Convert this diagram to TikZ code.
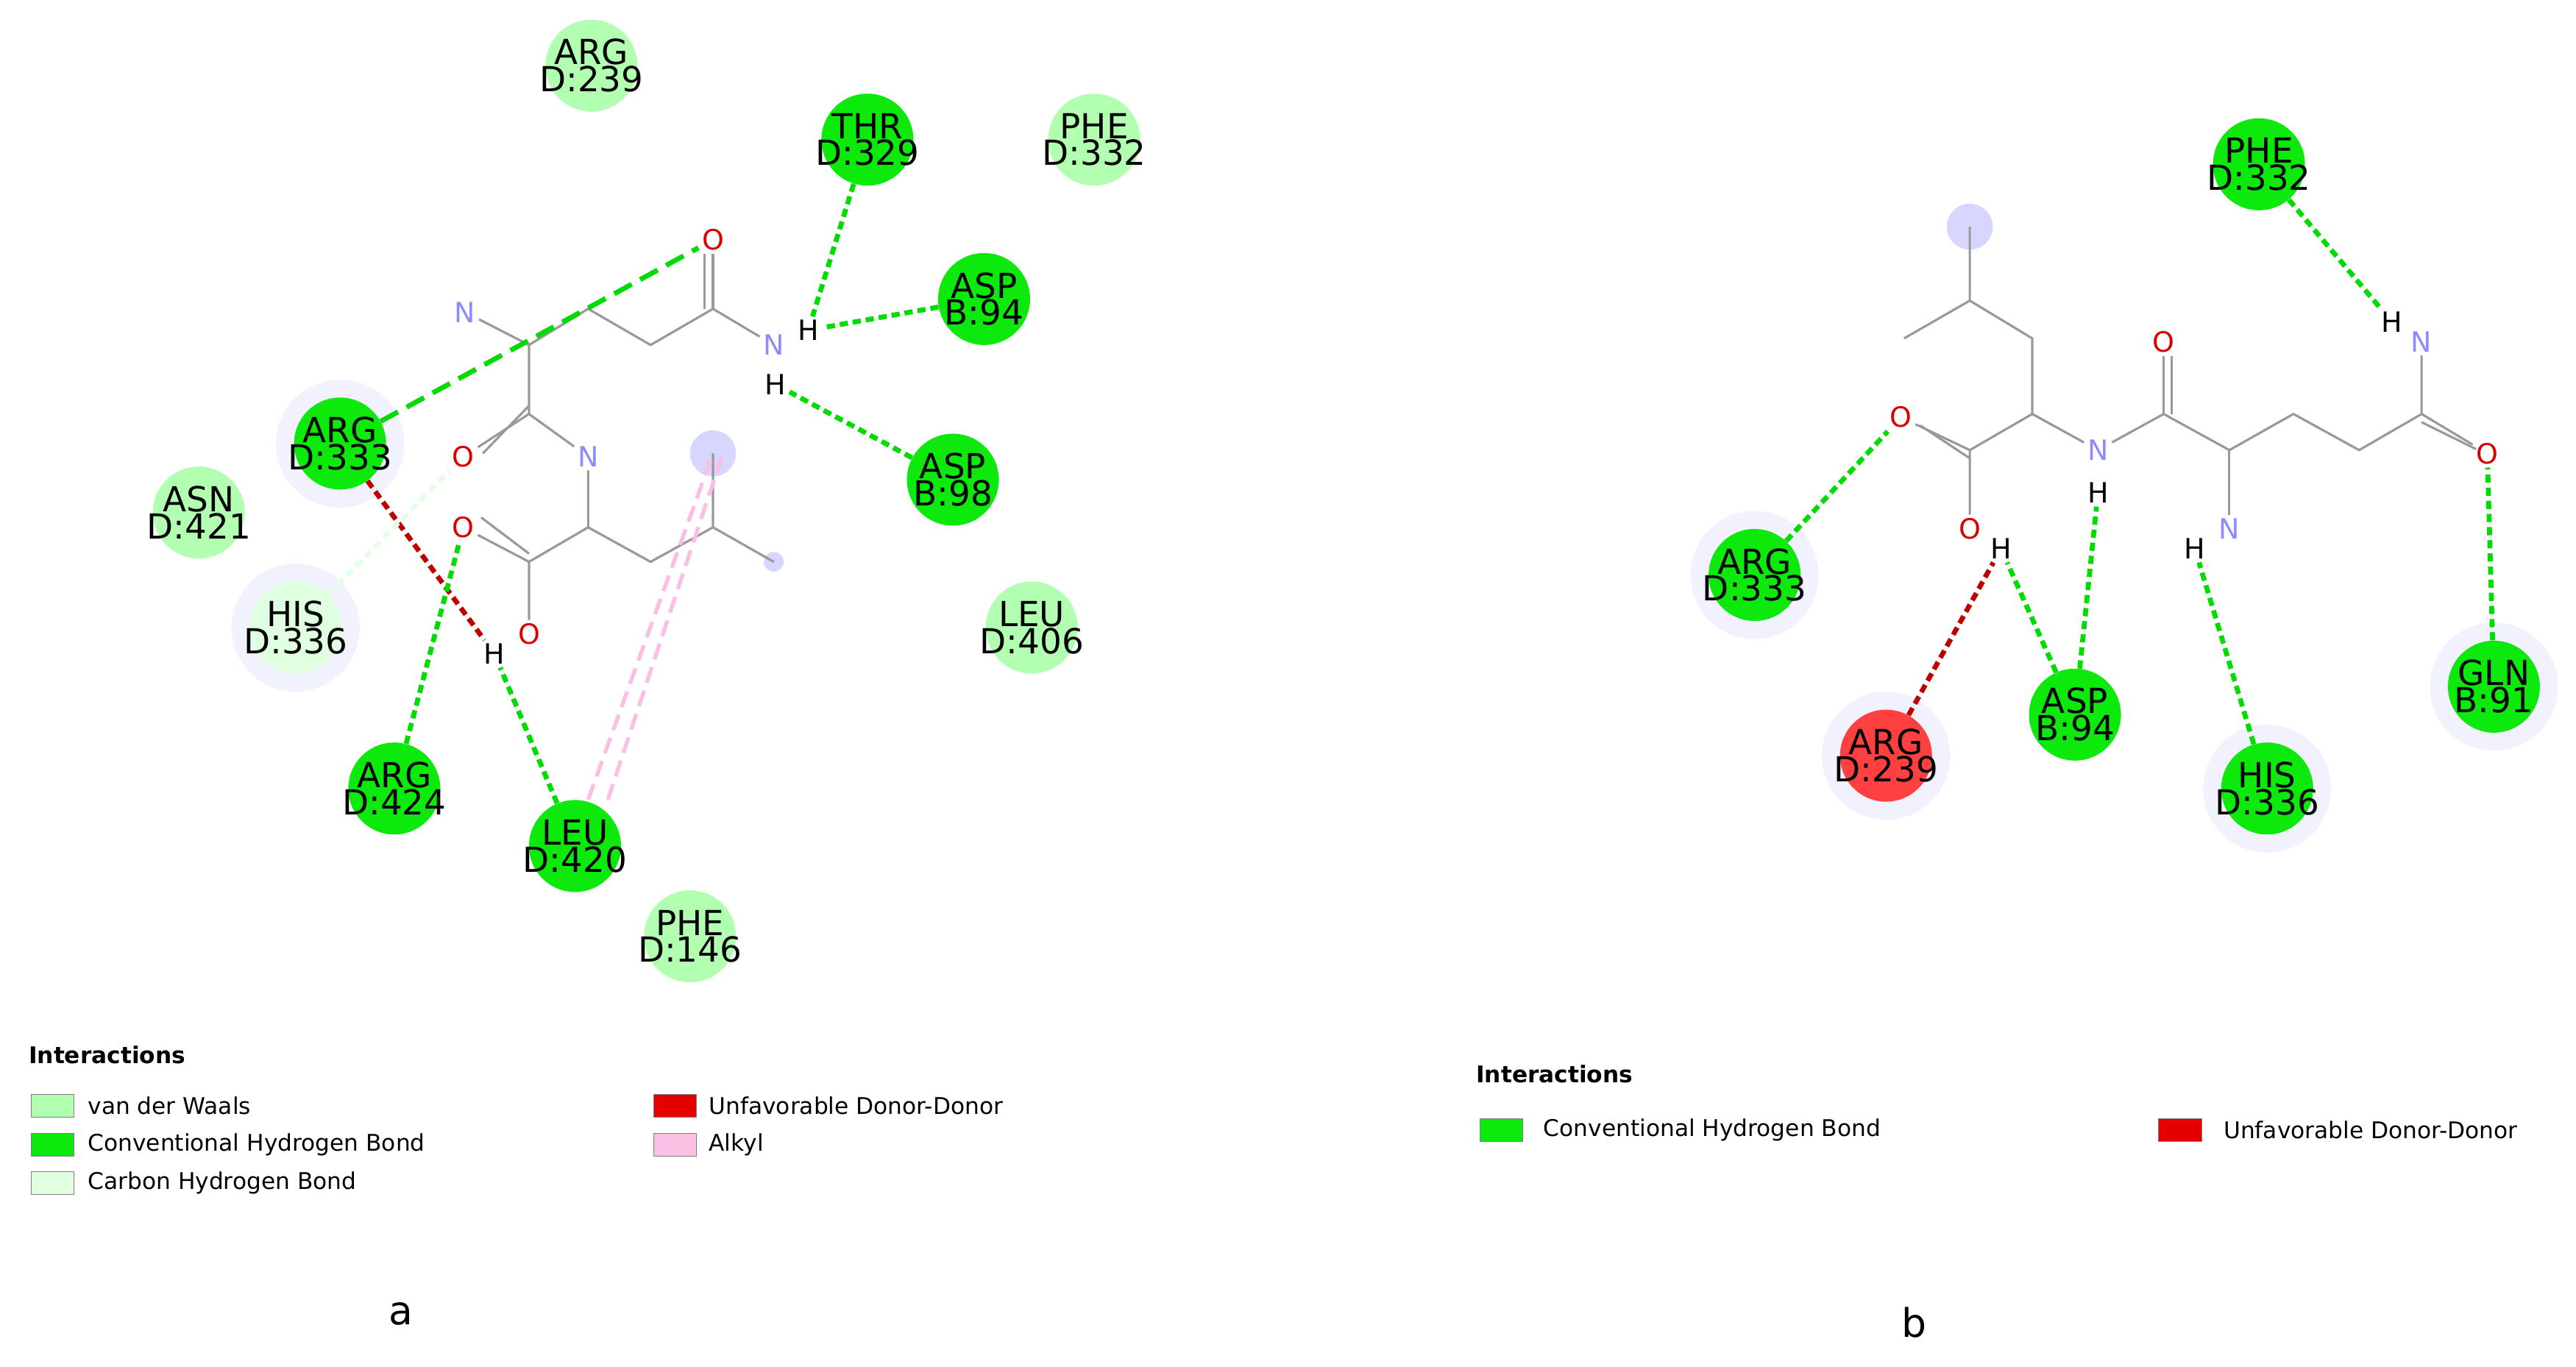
\documentclass[tikz,border=0pt]{standalone}
\usepackage{fontspec}
\setmainfont{DejaVu Sans}
\begin{document}
\begin{tikzpicture}[x=1pt,y=-1pt,
 res/.style={circle,minimum size=56pt,inner sep=-7pt,align=center,font=\fontsize{21}{16.5}\selectfont},
 conv/.style={res,fill=green!85!black!60!green!95},
 vdw/.style={res,fill=green!30!white},
 chb/.style={res,fill=green!12!white},
 unf/.style={res,fill=red!75!white},
 halo/.style={circle,fill=blue!5!white,minimum size=78pt,inner sep=0pt},
 glow/.style={circle,fill=blue!16!white,minimum size=28pt,inner sep=0pt},
 atO/.style={text=red!85!black,font=\fontsize{17}{17}\selectfont,inner sep=2pt},
 atN/.style={text=blue!45!white,font=\fontsize{17}{17}\selectfont,inner sep=2pt},
 atH/.style={text=black,font=\fontsize{17}{17}\selectfont,inner sep=2pt},
 bond/.style={draw=gray!80,line width=1.4pt},
 hb/.style={draw=green!80!black!70!green,line width=3pt,dash pattern=on 5pt off 3pt},
 hbl/.style={draw=green!10!white,line width=3pt,dash pattern=on 5pt off 3pt},
 unfb/.style={draw=red!75!black,line width=3pt,dash pattern=on 5pt off 3pt},
 alk/.style={draw=magenta!25!white,line width=2.4pt,dash pattern=on 10pt off 5pt},
 leg/.style={font=\fontsize{14}{14}\selectfont,anchor=west},
 box/.style={draw=gray,minimum width=26pt,minimum height=14pt,inner sep=0pt}]
\useasboundingbox (0,0) rectangle (1568,832);
% ---------- panel a ----------
\node[halo] at (207,270) {};
\node[halo] at (180,382) {};
\node[glow] at (434,276) {};
\node[glow,minimum size=12pt] at (471,342) {};
\coordinate (aCa1) at (322,210);
\coordinate (aCH2a) at (358,188);
\coordinate (aCH2b) at (396,210);
\coordinate (aC) at (434,188);
\coordinate (aCam) at (322,252);
\coordinate (aCa2) at (358,321);
\coordinate (aCac) at (322,342);
\coordinate (aCH2) at (396,342);
\coordinate (aCH) at (434,321);
\coordinate (aMe1) at (434,276);
\coordinate (aMe2) at (471,342);
\node[atN] (aNa) at (283,190) {N};
\node[atO] (aO1) at (434,146) {O};
\node[atN] (aN2) at (471,210) {N};
\node[atH] (aH1) at (492,201) {H};
\node[atH] (aH2) at (472,234) {H};
\node[atO] (aO2) at (282,278) {O};
\node[atN] (aN3) at (358,278) {N};
\node[atO] (aO3) at (282,321) {O};
\node[atO] (aO4) at (322,386) {O};
\node[atH] (aH3) at (301,398) {H};
\draw[bond] (aNa)--(aCa1)--(aCH2a)--(aCH2b)--(aC)--(aN2);
\draw[bond] (aC)--(aO1); \draw[bond] ([xshift=-5pt]aC)--([xshift=-5pt]aO1.south);
\draw[bond] (aCa1)--(aCam)--(aN3)--(aCa2)--(aCac)--(aO4);
\draw[bond] (aCam)--(aO2); \draw[bond] ([yshift=5pt]aCam)--([xshift=3pt,yshift=2pt]aO2.east);
\draw[bond] (aCac)--(aO3); \draw[bond] ([yshift=5pt]aCac)--([xshift=2pt,yshift=6pt]aO3.east);
\draw[bond] (aCa2)--(aCH2)--(aCH)--(aMe1); \draw[bond] (aCH)--(aMe2);
\node[vdw] (aR239) at (360,40) {ARG\\D:239};
\node[conv] (aT329) at (528,85) {THR\\D:329};
\node[vdw] (aP332) at (666,85) {PHE\\D:332};
\node[conv] (aD94) at (599,182) {ASP\\B:94};
\node[conv] (aD98) at (580,292) {ASP\\B:98};
\node[vdw] (aL406) at (628,382) {LEU\\D:406};
\node[conv] (aR333) at (207,270) {ARG\\D:333};
\node[vdw] (aN421) at (121,312) {ASN\\D:421};
\node[chb] (aH336) at (180,382) {HIS\\D:336};
\node[conv] (aR424) at (240,480) {ARG\\D:424};
\node[conv] (aL420) at (350,515) {LEU\\D:420};
\node[vdw] (aP146) at (420,570) {PHE\\D:146};
\draw[hb,dash pattern=on 12pt off 6pt] (aR333) -- (aO1);
\draw[hb] (aT329) -- (aH1);
\draw[hb] (aD94) -- (aH1);
\draw[hb] (aD98) -- (aH2);
\draw[unfb] (aR333) -- (aH3);
\draw[hb] (aR424) -- (aO3);
\draw[hb] (aL420) -- (aH3);
\draw[hbl] (aH336) -- (aO2);
\draw[alk] ([xshift=8pt]aL420.north) -- (aMe1);
\draw[alk] ([xshift=20pt]aL420.north) -- ([xshift=6pt]aMe1);
% legend a
\node[font=\bfseries\fontsize{14}{14}\selectfont,anchor=west] at (14,642) {Interactions};
\node[box,fill=green!30!white] (lb1) at (32,673) {}; \node[leg] at (50,673) {van der Waals};
\node[box,fill=green!85!black!60!green!95] (lb2) at (32,697) {}; \node[leg] at (50,697) {Conventional Hydrogen Bond};
\node[box,fill=green!12!white] (lb3) at (32,720) {}; \node[leg] at (50,720) {Carbon Hydrogen Bond};
\node[box,fill=red!90!black] (lb4) at (411,673) {}; \node[leg] at (428,673) {Unfavorable Donor-Donor};
\node[box,fill=magenta!25!white] (lb5) at (411,697) {}; \node[leg] at (428,697) {Alkyl};
\node[font=\fontsize{24}{24}\selectfont] (la) at (244,800) {a};
% ---------- panel b ----------
\node[halo] at (1068,350) {};
\node[halo] at (1148,460) {};
\node[halo] at (1380,480) {};
\node[halo] at (1518,418) {};
\node[glow] at (1199,138) {};
\coordinate (bMe1) at (1199,138);
\coordinate (bCH) at (1199,183);
\coordinate (bMe2) at (1159,206);
\coordinate (bCH2) at (1237,206);
\coordinate (bCa) at (1237,252);
\coordinate (bCac) at (1199,274);
\coordinate (bCam) at (1317,252);
\coordinate (bCa2) at (1357,274);
\coordinate (bCH2a) at (1396,252);
\coordinate (bCH2b) at (1436,274);
\coordinate (bC) at (1474,252);
\node[atO] (bO1) at (1157,254) {O};
\node[atO] (bO2) at (1199,322) {O};
\node[atH] (bH1) at (1218,334) {H};
\node[atN] (bN1) at (1277,274) {N};
\node[atH] (bH2) at (1277,300) {H};
\node[atO] (bO3) at (1317,208) {O};
\node[atN] (bN2) at (1357,322) {N};
\node[atH] (bH3) at (1336,334) {H};
\node[atO] (bO4) at (1514,276) {O};
\node[atN] (bN3) at (1474,208) {N};
\node[atH] (bH4) at (1456,196) {H};
\draw[bond] (bMe1)--(bCH)--(bMe2); \draw[bond] (bCH)--(bCH2)--(bCa)--(bCac)--(bO2);
\draw[bond] (bCac)--(bO1); \draw[bond] ([yshift=-5pt]bCac)--([xshift=3pt,yshift=-5pt]bO1.east);
\draw[bond] (bCa)--(bN1)--(bCam)--(bCa2)--(bCH2a)--(bCH2b)--(bC)--(bN3);
\draw[bond] (bCam)--(bO3); \draw[bond] ([xshift=5pt]bCam)--([xshift=5pt]bO3.south);
\draw[bond] (bCa2)--(bN2);
\draw[bond] (bC)--(bO4); \draw[bond] ([yshift=-5pt]bC)--([xshift=2pt,yshift=-6pt]bO4.north west);
\node[conv] (bP332) at (1375,100) {PHE\\D:332};
\node[conv] (bR333) at (1068,350) {ARG\\D:333};
\node[unf] (bR239) at (1148,460) {ARG\\D:239};
\node[conv] (bD94) at (1263,435) {ASP\\B:94};
\node[conv] (bH336) at (1380,480) {HIS\\D:336};
\node[conv] (bQ91) at (1518,418) {GLN\\B:91};
\draw[hb] (bP332) -- (bH4);
\draw[hb] (bR333) -- (bO1);
\draw[unfb] (bR239) -- (bH1);
\draw[hb] (bD94) -- (bH1);
\draw[hb] (bD94) -- (bH2);
\draw[hb] (bH336) -- (bH3);
\draw[hb] (bQ91) -- (bO4);
% legend b
\node[font=\bfseries\fontsize{14}{14}\selectfont,anchor=west] at (895,654) {Interactions};
\node[box,fill=green!85!black!60!green!95] (lb6) at (914,688) {}; \node[leg] at (936,688) {Conventional Hydrogen Bond};
\node[box,fill=red!90!black] (lb7) at (1327,688) {}; \node[leg] at (1350,688) {Unfavorable Donor-Donor};
\node[font=\fontsize{24}{24}\selectfont] (lbb) at (1165,805) {b};
\end{tikzpicture}
\end{document}
